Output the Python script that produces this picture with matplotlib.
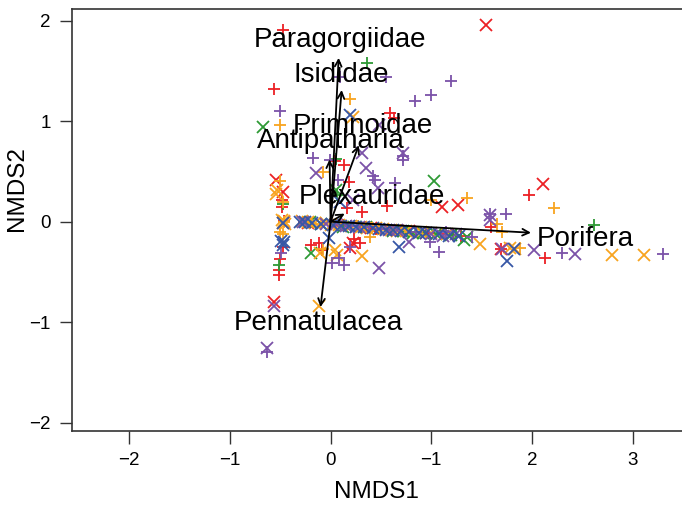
"""NMDS ordination of coral/sponge taxa with fitted vectors (envfit style)."""
import matplotlib
matplotlib.use("Agg")
import matplotlib.pyplot as plt

plt.rcParams["font.family"] = ["Liberation Sans", "DejaVu Sans"]

# ---- site scores, one pair of lists per colour and symbol ----
red_plus_x = [-0.47, -0.56, 0.59, 0.63, 0.04, 0.13, 0.18, -0.48, -0.48, 0.16, 0.31, 0.56,
              -0.50, -0.51, -0.51, -0.19, -0.12, -0.09, 0.29, 0.23, 1.97, 1.59, 1.69, 2.13,
              -0.47, 0.05, 0.35, 0.60, 0.98, 1.22, -0.46,
              -0.26, 0.12, 0.45, 0.85, 1.10, 1.30]
red_plus_y = [1.91, 1.32, 1.08, 1.03, 0.60, 0.56, 0.39, 0.22, 0.15, 0.14, 0.10, 0.16,
              -0.37, -0.48, -0.53, -0.23, -0.21, -0.28, -0.21, -0.17, 0.27, -0.05, -0.27, -0.36,
              -0.25, -0.02, -0.05, -0.08, -0.11, -0.13, 0.01,
              0.00, -0.03, -0.07, -0.10, -0.12, -0.14]
red_cross_x = [1.54, -0.54, -0.47, 1.11, 1.27, 0.19, -0.56, 2.11, 1.69, 0.22, -0.46,
               -0.22, 0.40, 0.78, 0.95]
red_cross_y = [1.96, 0.41, 0.30, 0.15, 0.17, -0.26, -0.80, 0.37, -0.27, -0.21, 0.00,
               -0.01, -0.06, -0.09, -0.11]

green_plus_x = [0.36, 0.05, -0.51, 2.62, 0.06, -0.47, 1.25]
green_plus_y = [1.58, 0.62, -0.43, -0.03, 0.27, 0.18, -0.13]
green_cross_x = [-0.67, 0.05, 1.03, -0.19, 1.32, 0.12, 0.62, 0.82, 1.05, -0.10,
                 -0.20, 0.35, 0.72, 0.92, 1.20, 1.35]
green_cross_y = [0.94, 0.32, 0.40, -0.31, -0.18, -0.05, -0.09, -0.11, -0.12, -0.02,
                 0.00, -0.05, -0.09, -0.11, -0.13, -0.15]

orange_plus_x = [0.19, -0.50, -0.08, -0.50, 1.00, 1.35, -0.47, 0.39, 2.22, 1.65, 1.70, 1.88,
                 -0.47, -0.46, -0.10, 0.27, 0.48, 0.70, -0.08, -0.50]
orange_plus_y = [1.22, 0.96, 0.49, 0.40, 0.22, 0.24, -0.12, -0.15, 0.14, -0.02, -0.10, -0.26,
                 0.20, 0.00, -0.02, -0.04, -0.07, -0.08, -0.27, -0.10]
orange_cross_x = [0.22, -0.54, -0.11, 0.04, 0.06, 0.31, -0.12, 1.48, 1.78, 1.83, 2.79, 3.11,
                  -0.47, -0.46, -0.15, 0.00, 0.30, 0.45, 0.66, 0.90, 1.16, -0.53,
                  -0.28, -0.22, -0.05, 0.08, 0.20, 0.36, 0.52, 0.60, 0.75, 1.00, -0.45, -0.48]
orange_cross_y = [1.04, 0.28, -0.31, -0.28, -0.33, -0.34, -0.84, -0.22, -0.26, -0.27, -0.33, -0.33,
                  -0.01, 0.01, -0.01, -0.03, -0.05, -0.06, -0.09, -0.10, -0.12, 0.32,
                  0.01, 0.00, -0.01, -0.03, -0.04, -0.06, -0.07, -0.08, -0.09, -0.11, -0.02, 0.02]

purple_plus_x = [0.09, 0.55, 1.20, 1.00, 0.84, -0.50, 0.72, -0.17, -0.01, 0.42, 0.44, 0.64,
                 0.07, -0.49, 0.01, 0.13, 0.08, 0.19, 0.99, 1.08, 1.58, 1.74, 2.30, 3.30,
                 -0.63, 0.72, 0.20, 0.50, 0.85, 0.38, 1.15, 1.40]
purple_plus_y = [1.44, 1.44, 1.40, 1.26, 1.20, 1.10, 0.61, 0.63, 0.61, 0.45, 0.41, 0.38,
                 0.41, -0.31, -0.41, -0.43, -0.36, -0.25, -0.20, -0.30, 0.08, 0.08, -0.31, -0.32,
                 -1.30, 0.65, -0.04, -0.07, -0.10, -0.05, -0.10, -0.15]
purple_cross_x = [0.48, 0.31, 0.72, -0.14, 0.35, 0.47, 0.48, 0.78, -0.56, 1.58, 1.58, 1.70,
                  2.02, 2.43, -0.63, 0.22, -0.05, 0.15, 0.58, 1.00, 1.12,
                  -0.27, 0.05, 0.28, 0.66, 1.25]
purple_cross_y = [0.96, 0.68, 0.68, 0.48, 0.53, 0.33, -0.46, -0.20, -0.84, 0.07, 0.02, -0.27,
                  -0.28, -0.32, -1.26, 0.22, -0.02, -0.04, -0.08, -0.12, -0.14,
                  0.00, -0.02, -0.05, -0.08, -0.12]

blue_cross_x = [0.19, 0.09, -0.49, -0.47, -0.02, 0.68, 1.82, 1.75, -0.47, -0.30, -0.18,
                0.10, 0.25, 0.42, 0.55, 0.70, 0.88, 1.08, 1.18, -0.46,
                -0.25, -0.10, 0.02, 0.18, 0.33, 0.48, 0.62, 0.78, 0.95, 1.28]
blue_cross_y = [1.06, 0.20, -0.19, -0.23, -0.16, -0.25, -0.27, -0.39, -0.01, 0.00, -0.01,
                -0.04, -0.05, -0.06, -0.08, -0.09, -0.11, -0.12, -0.14, -0.20,
                0.00, -0.02, -0.03, -0.04, -0.05, -0.07, -0.08, -0.10, -0.11, -0.14]

# ---- fitted taxon vectors ----
taxa = ["Paragorgiidae", "Isididae", "Primnoidae", "Antipatharia",
        "Plexauridae", "Porifera", "Pennatulacea"]
vec_x = [0.08, 0.11, 0.28, -0.01, 0.14, 1.99, -0.10]
vec_y = [1.63, 1.31, 0.76, 0.62, 0.08, -0.11, -0.85]
lab_x = [0.09, 0.11, 0.32, 0.00, 0.41, 2.53, -0.12]
lab_y = [1.81, 1.46, 0.95, 0.80, 0.25, -0.17, -1.01]

x_ticks = [-2, -1, 0, 1, 2, 3]
x_tick_labels = ["\u22122", "\u22121", "0", "\u22121", "2", "3"]
y_ticks = [-2, -1, 0, 1, 2]
y_tick_labels = ["\u22122", "\u22121", "0", "1", "2"]

RED = "#EC2024"
GREEN = "#2E9A35"
ORANGE = "#F8A41F"
PURPLE = "#7B52A8"
BLUE = "#3656A6"

fig = plt.figure(figsize=(6.82, 5.05), dpi=100)
ax = fig.add_axes([0.1053, 0.1465, 0.8947, 0.8351])

groups = [
    (red_plus_x, red_plus_y, RED, "+"),
    (red_cross_x, red_cross_y, RED, "x"),
    (green_plus_x, green_plus_y, GREEN, "+"),
    (green_cross_x, green_cross_y, GREEN, "x"),
    (orange_plus_x, orange_plus_y, ORANGE, "+"),
    (orange_cross_x, orange_cross_y, ORANGE, "x"),
    (purple_plus_x, purple_plus_y, PURPLE, "+"),
    (purple_cross_x, purple_cross_y, PURPLE, "x"),
    (blue_cross_x, blue_cross_y, BLUE, "x"),
]
for xs, ys, col, mk in groups:
    ax.plot(xs, ys, linestyle="none", marker=mk, color=col, ms=8, mew=1.3)

for name, vx, vy, tx, ty in zip(taxa, vec_x, vec_y, lab_x, lab_y):
    ax.annotate("", xy=(vx, vy), xytext=(0, 0),
                arrowprops=dict(arrowstyle="->", color="black", lw=1.3,
                                shrinkA=0, shrinkB=0, mutation_scale=12))
    ax.text(tx, ty, name, ha="center", va="center", fontsize=20, color="black")

ax.set_xlim(-2.57, 3.49)
ax.set_ylim(-2.083, 2.113)
ax.set_xticks(x_ticks)
ax.set_xticklabels(x_tick_labels)
ax.set_yticks(y_ticks)
ax.set_yticklabels(y_tick_labels)
ax.tick_params(length=9, width=1.0, pad=6, labelsize=13.5, color="#333333")
ax.spines["right"].set_visible(False)
for s in ("left", "top", "bottom"):
    ax.spines[s].set_linewidth(1.2)
    ax.spines[s].set_color("#333333")

ax.set_xlabel("NMDS1", fontsize=17.5)
ax.set_ylabel("NMDS2", fontsize=17.5)
ax.xaxis.set_label_coords(0.5, -0.118)
ax.yaxis.set_label_coords(-0.071, 0.576)

fig.savefig("out.png", dpi=100)
